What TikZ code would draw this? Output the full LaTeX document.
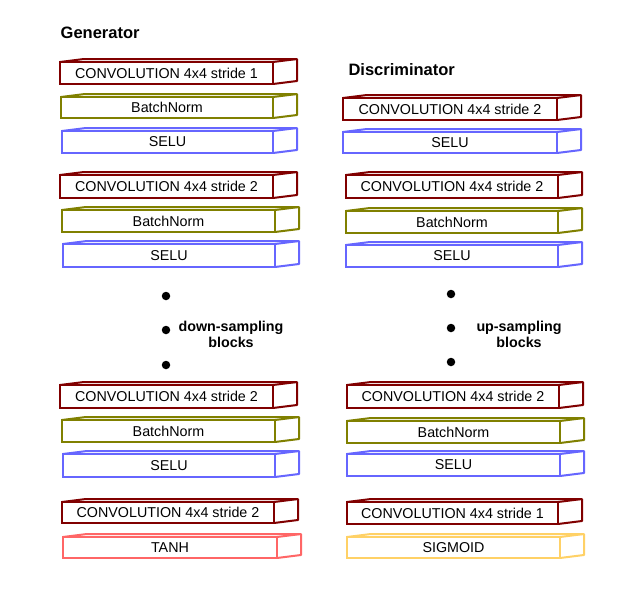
\documentclass[tikz,border=0pt]{standalone}
\usepackage{fontspec}
\setmainfont{Liberation Sans}
\usetikzlibrary{calc}
\definecolor{convc}{HTML}{800000}
\definecolor{bnc}{HTML}{808000}
\definecolor{seluc}{HTML}{6666FF}
\definecolor{tanhc}{HTML}{FF6666}
\definecolor{sigc}{HTML}{FFD166}
\tikzset{
  blk/.style={draw=#1, line width=2pt, fill=white, rectangle, inner sep=0pt, outer sep=0pt,
    font=\fontsize{14.3}{16}\selectfont},
  side/.style={draw=#1, line width=2pt, line join=round},
  title/.style={anchor=base west, inner sep=0pt, font=\fontsize{16.5}{19}\selectfont\bfseries},
  lbl/.style={align=center, font=\fontsize{14.3}{16.5}\selectfont\bfseries},
  dotn/.style={circle, fill=black, inner sep=0pt, minimum size=8.5pt}
}
\newcommand\blockbox[7]{%
  \node[blk=#6, minimum width={#4-#2}, minimum height={#5-#3}] (#1) at ({(#2+#4)/2},{(#3+#5)/2}) {#7};
  \draw[side=#6] (#1.north west) -- ($(#1.north west)+(24,-3)$) -- ($(#1.north east)+(24,-3)$)
    -- ($(#1.south east)+(24,-3)$) -- (#1.south east);
  \draw[side=#6] (#1.north east) -- ($(#1.north east)+(24,-3)$);
}
\begin{document}
\begin{tikzpicture}[x=1pt,y=-1pt]
\useasboundingbox (0,0) rectangle (625,590);
% Generator
\node[title] (gtitle) at (60.5,38) {Generator};
\blockbox{g1}{60}{62}{273}{84}{convc}{CONVOLUTION 4x4 stride 1}
\blockbox{g2}{61}{97}{273}{118}{bnc}{BatchNorm}
\blockbox{g3}{62}{131}{273}{153}{seluc}{SELU}
\blockbox{g4}{60}{175}{273}{198}{convc}{CONVOLUTION 4x4 stride 2}
\blockbox{g5}{62}{210}{275}{232}{bnc}{BatchNorm}
\blockbox{g6}{63}{244}{275}{267}{seluc}{SELU}
\node[dotn] (gd1) at (166,296) {};
\node[dotn] (gd2) at (166,330) {};
\node[dotn] (gd3) at (166,365) {};
\node[lbl] (glbl) at (231,334.5) {down-sampling\\blocks};
\blockbox{g7}{60}{385}{273}{408}{convc}{CONVOLUTION 4x4 stride 2}
\blockbox{g8}{62}{420}{275}{442}{bnc}{BatchNorm}
\blockbox{g9}{63}{454}{275}{477}{seluc}{SELU}
\blockbox{g10}{62}{502}{274}{523}{convc}{CONVOLUTION 4x4 stride 2}
\blockbox{g11}{63}{537}{277}{558}{tanhc}{TANH}
% Discriminator
\node[title] (dtitle) at (348.3,75.7) {Discriminator};
\blockbox{d1}{343}{98}{557}{120}{convc}{CONVOLUTION 4x4 stride 2}
\blockbox{d2}{343}{132}{557}{153}{seluc}{SELU}
\blockbox{d3}{346}{175}{558}{198}{convc}{CONVOLUTION 4x4 stride 2}
\blockbox{d4}{346}{211}{558}{233}{bnc}{BatchNorm}
\blockbox{d5}{346}{245}{558}{267}{seluc}{SELU}
\node[dotn] (dd1) at (451,294) {};
\node[dotn] (dd2) at (451,328) {};
\node[dotn] (dd3) at (451,362) {};
\node[lbl] (dlbl) at (519,334.5) {up-sampling\\blocks};
\blockbox{d6}{347}{385}{559}{408}{convc}{CONVOLUTION 4x4 stride 2}
\blockbox{d7}{347}{421}{560}{443}{bnc}{BatchNorm}
\blockbox{d8}{347}{454}{560}{476}{seluc}{SELU}
\blockbox{d9}{347}{502}{558}{524}{convc}{CONVOLUTION 4x4 stride 1}
\blockbox{d10}{347}{537}{560}{558}{sigc}{SIGMOID}
\end{tikzpicture}
\end{document}
